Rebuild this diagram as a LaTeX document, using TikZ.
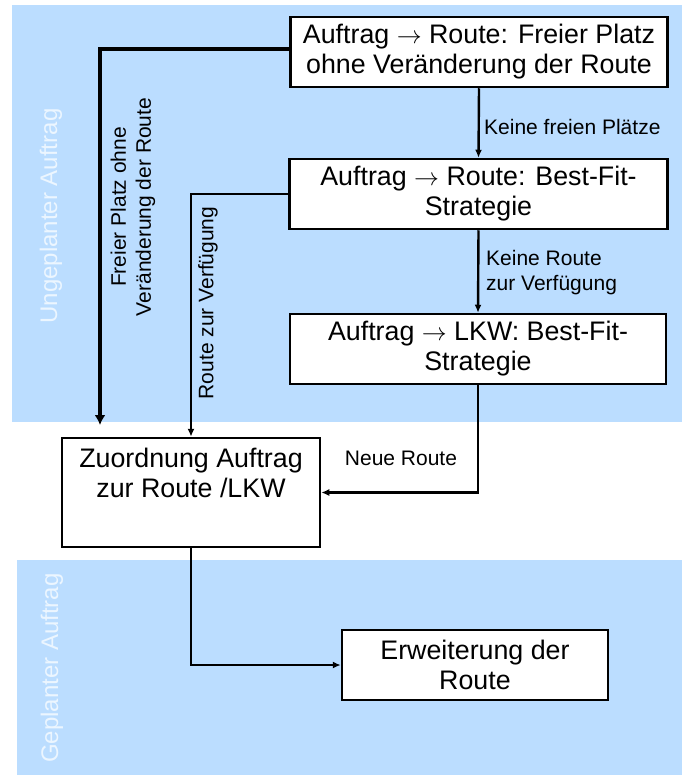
\documentclass[tikz,border=0pt]{standalone}
\usepackage{fontspec}
\setmainfont{Liberation Sans}
\usetikzlibrary{arrows.meta}
\definecolor{zoneblue}{RGB}{187,221,255}
\definecolor{zonetext}{RGB}{236,246,255}
\newcommand{\toarrow}{\mbox{$\rightarrow$}}
\begin{document}
\begin{tikzpicture}[x=1pt,y=-1pt,
  box/.style={draw=black, line width=2.5pt, fill=white, align=center,
    inner sep=0pt, font=\fontsize{26.8}{30}\selectfont},
  lbl/.style={font=\fontsize{21}{25}\selectfont, inner sep=0pt},
  zonelbl/.style={font=\fontsize{24}{28}\selectfont, text=zonetext,
    rotate=90, inner sep=0pt},
  flow/.style={line width=2.4pt, -{Latex[length=8pt,width=7pt]}},
  bigflow/.style={line width=4pt, -{Latex[length=10pt,width=11pt]}},
]
\useasboundingbox (0,0) rectangle (682,776);

% planning zones
\fill[zoneblue] (12,5) rectangle (682,422);
\fill[zoneblue] (17,560) rectangle (682,775);
\node[zonelbl] (zu) at (51,216) {Ungeplanter Auftrag};
\node[zonelbl] (zg) at (52,668) {Geplanter Auftrag};

% process steps
\node[box, minimum width=377pt, minimum height=70pt] (r1) at (479,52)
  {Auftrag \toarrow{} Route: Freier Platz\\ohne Veränderung der Route};
\node[box, minimum width=378pt, minimum height=70pt] (r2) at (478.5,194)
  {Auftrag \toarrow{} Route: Best-Fit-\\Strategie};
\node[box, minimum width=376pt, minimum height=70pt] (r3) at (478,349)
  {Auftrag \toarrow{} LKW: Best-Fit-\\Strategie};
\node[box, minimum width=258pt, minimum height=109pt] (z) at (191,492.5)
  {Zuordnung Auftrag\\zur Route /LKW\\[10pt]\mbox{}};
\node[box, minimum width=266pt, minimum height=70pt] (e) at (475,665)
  {Erweiterung der\\Route};

% connectors
\coordinate (c1) at (100,425);
\draw[bigflow] ([yshift=3pt]r1.west) -| (c1);
\draw[flow] (r2.west) -| (z.north);
\draw[flow] (r1.south) -- (r2.north);
\draw[flow] (r2.south) -- (r3.north);
\draw[flow] (r3.south) |- (z.east);
\draw[flow] (z.south) |- (e.west);

% connector labels
\node[lbl, anchor=west] (k1) at (484,127) {Keine freien Plätze};
\node[lbl, anchor=west, align=left] (k2) at (486,273) {Keine Route\\zur Verfügung};
\node[lbl] (nr) at (401,458) {Neue Route};
\node[lbl, rotate=90, align=center] (fp) at (133,207)
  {Freier Platz ohne\\Veränderung der Route};
\node[lbl, rotate=90] (rv) at (208,303) {Route zur Verfügung};
\end{tikzpicture}
\end{document}
